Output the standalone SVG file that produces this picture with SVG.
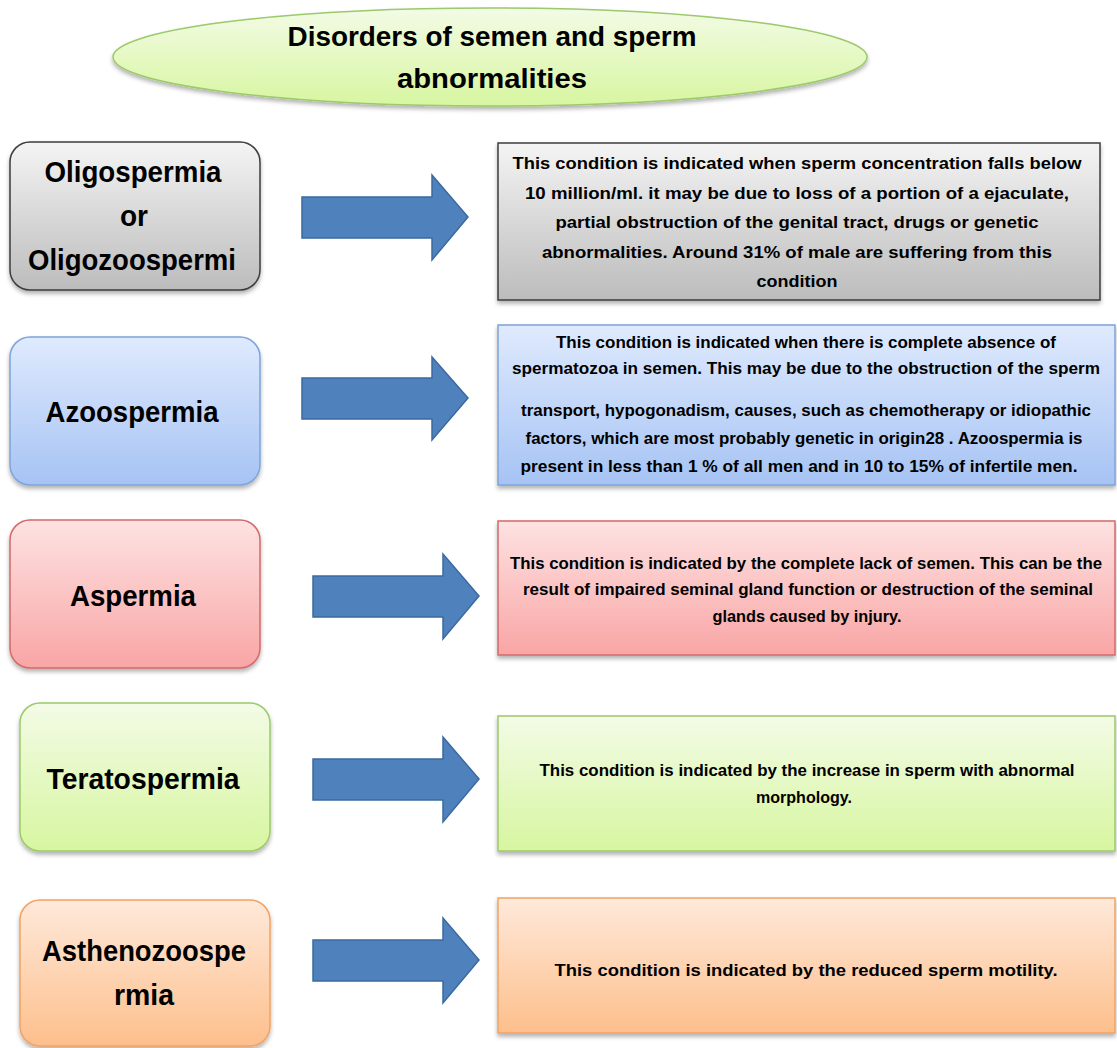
<svg xmlns="http://www.w3.org/2000/svg" width="1117" height="1048" viewBox="0 0 1117 1048">
<defs>
<linearGradient id="gGray" x1="0" y1="0" x2="0" y2="1"><stop offset="0" stop-color="#f4f4f4"/><stop offset="1" stop-color="#bcbcbc"/></linearGradient>
<linearGradient id="gBlue" x1="0" y1="0" x2="0" y2="1"><stop offset="0" stop-color="#dfeafd"/><stop offset="1" stop-color="#a6c3f4"/></linearGradient>
<linearGradient id="gPink" x1="0" y1="0" x2="0" y2="1"><stop offset="0" stop-color="#fee2e2"/><stop offset="1" stop-color="#f9a5a5"/></linearGradient>
<linearGradient id="gGreen" x1="0" y1="0" x2="0" y2="1"><stop offset="0" stop-color="#f3fbe6"/><stop offset="1" stop-color="#d7f6a0"/></linearGradient>
<linearGradient id="gOrange" x1="0" y1="0" x2="0" y2="1"><stop offset="0" stop-color="#fee9da"/><stop offset="1" stop-color="#fdbf8c"/></linearGradient>
<filter id="sh" x="-5%" y="-10%" width="110%" height="125%"><feDropShadow dx="0" dy="3" stdDeviation="2" flood-color="#000" flood-opacity="0.3"/></filter>
</defs>
<style>
text{font-family:"Liberation Sans","DejaVu Sans",sans-serif;font-weight:bold;fill:#000;text-anchor:middle}
.lbl{font-size:29px}
.ttl{font-size:28px}
.desc{font-size:17px}
.gray{fill:url(#gGray);stroke:#3c3c3c;stroke-width:1.5}
.blue{fill:url(#gBlue);stroke:#7ea4d8;stroke-width:1.5}
.pink{fill:url(#gPink);stroke:#d26a6a;stroke-width:1.5}
.green{fill:url(#gGreen);stroke:#9cc96b;stroke-width:1.5}
.orange{fill:url(#gOrange);stroke:#f2a262;stroke-width:1.5}
.box{filter:url(#sh)}
.arrow{fill:#4f81bd;stroke:#3b6aa0;stroke-width:1.5}
</style>
<rect width="1117" height="1048" fill="#ffffff"/>

<g id="title">
<ellipse class="box" cx="490" cy="57" rx="377" ry="49" fill="url(#gGreen)" stroke="#9cc96b" stroke-width="1.5"/>
<text class="ttl" x="492" y="46" textLength="409" lengthAdjust="spacingAndGlyphs">Disorders of semen and sperm</text>
<text class="ttl" x="492" y="88" textLength="190" lengthAdjust="spacingAndGlyphs">abnormalities</text>
</g>

<g id="oligospermia">
<rect class="box gray" x="10" y="142" width="250" height="148" rx="20"/>
<text class="lbl" x="133" y="182" textLength="177" lengthAdjust="spacingAndGlyphs">Oligospermia</text>
<text class="lbl" x="134" y="226" textLength="28" lengthAdjust="spacingAndGlyphs">or</text>
<text class="lbl" x="132" y="270" textLength="208" lengthAdjust="spacingAndGlyphs">Oligozoospermi</text>
</g>

<g id="oligospermia-desc">
<rect class="box gray" x="498" y="143" width="602" height="157"/>
<text class="desc" x="797" y="169" textLength="569" lengthAdjust="spacingAndGlyphs">This condition is indicated when  sperm concentration falls below</text>
<text class="desc" x="797" y="199" textLength="544" lengthAdjust="spacingAndGlyphs">10 million/ml. it may be due  to loss of a portion of a ejaculate,</text>
<text class="desc" x="797" y="228" textLength="483" lengthAdjust="spacingAndGlyphs">partial obstruction of the genital tract, drugs or genetic</text>
<text class="desc" x="797" y="258" textLength="510" lengthAdjust="spacingAndGlyphs">abnormalities. Around 31% of male are suffering from this</text>
<text class="desc" x="797" y="287" textLength="81" lengthAdjust="spacingAndGlyphs">condition</text>
</g>

<g id="azoospermia">
<rect class="box blue" x="10" y="337" width="250" height="148" rx="20"/>
<text class="lbl" x="132" y="422" textLength="173" lengthAdjust="spacingAndGlyphs">Azoospermia</text>
</g>

<g id="azoospermia-desc">
<rect class="box blue" x="498" y="325" width="617" height="160"/>
<text class="desc" x="806" y="348" textLength="500" lengthAdjust="spacingAndGlyphs">This condition is indicated when there is complete absence of</text>
<text class="desc" x="806" y="374" textLength="588" lengthAdjust="spacingAndGlyphs">spermatozoa in semen. This may be due to the obstruction of the sperm</text>
<text class="desc" x="806" y="416" textLength="570" lengthAdjust="spacingAndGlyphs">transport, hypogonadism, causes, such as chemotherapy or idiopathic</text>
<text class="desc" x="804" y="444" textLength="557" lengthAdjust="spacingAndGlyphs">factors, which are most probably genetic in origin28 . Azoospermia is</text>
<text class="desc" x="799" y="472" textLength="557" lengthAdjust="spacingAndGlyphs">present in less than 1 % of all men and in 10  to 15% of infertile men.</text>
</g>

<g id="aspermia">
<rect class="box pink" x="10" y="520" width="250" height="148" rx="20"/>
<text class="lbl" x="133" y="606" textLength="126" lengthAdjust="spacingAndGlyphs">Aspermia</text>
</g>

<g id="aspermia-desc">
<rect class="box pink" x="498" y="521" width="617" height="134"/>
<text class="desc" x="806" y="569" textLength="592" lengthAdjust="spacingAndGlyphs">This condition is indicated by the complete lack of semen. This can be the</text>
<text class="desc" x="808" y="595" textLength="570" lengthAdjust="spacingAndGlyphs">result of impaired seminal gland function or destruction of the seminal</text>
<text class="desc" x="807" y="622" textLength="189" lengthAdjust="spacingAndGlyphs">glands caused by injury.</text>
</g>

<g id="teratospermia">
<rect class="box green" x="20" y="703" width="250" height="148" rx="20"/>
<text class="lbl" x="143" y="789" textLength="193" lengthAdjust="spacingAndGlyphs">Teratospermia</text>
</g>

<g id="teratospermia-desc">
<rect class="box green" x="498" y="716" width="617" height="135"/>
<text class="desc" x="807" y="776" textLength="535" lengthAdjust="spacingAndGlyphs">This condition is indicated by the increase in sperm with abnormal</text>
<text class="desc" x="804" y="803" textLength="96" lengthAdjust="spacingAndGlyphs">morphology.</text>
</g>

<g id="asthenozoospermia">
<rect class="box orange" x="20" y="900" width="250" height="146" rx="20"/>
<text class="lbl" x="144" y="961" textLength="204" lengthAdjust="spacingAndGlyphs">Asthenozoospe</text>
<text class="lbl" x="144" y="1005" textLength="60" lengthAdjust="spacingAndGlyphs">rmia</text>
</g>

<g id="asthenozoospermia-desc">
<rect class="box orange" x="498" y="898" width="617" height="135"/>
<text class="desc" x="806" y="976" textLength="503" lengthAdjust="spacingAndGlyphs">This condition is indicated by the reduced sperm motility.</text>
</g>

<g id="connectors">
<path class="arrow" d="M302 197 H432 V175 L468 217 L432 260 V238 H302 Z"/>
<path class="arrow" d="M302 378 H432 V357 L468 398 L432 440 V419 H302 Z"/>
<path class="arrow" d="M313 576 H443 V554 L479 596 L443 639 V617 H313 Z"/>
<path class="arrow" d="M313 759 H443 V737 L479 779 L443 822 V800 H313 Z"/>
<path class="arrow" d="M313 940 H443 V918 L479 960 L443 1003 V981 H313 Z"/>
</g>
</svg>
